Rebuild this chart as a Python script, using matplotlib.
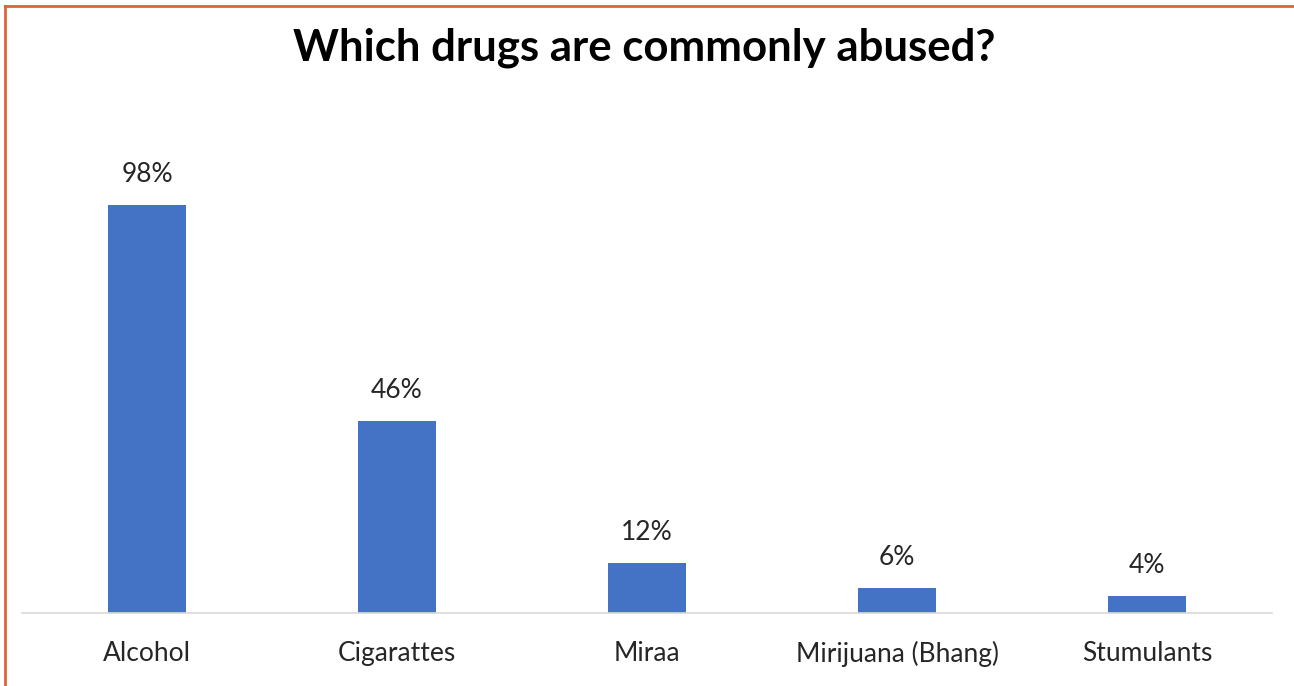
import matplotlib
matplotlib.use("Agg")
import matplotlib.pyplot as plt
from matplotlib.lines import Line2D

categories = ["Alcohol", "Cigarattes", "Miraa", "Mirijuana (Bhang)", "Stumulants"]
values = [98, 46, 12, 6, 4]
labels = ["98%", "46%", "12%", "6%", "4%"]

W, H = 1294, 686
fig = plt.figure(figsize=(W / 100, H / 100), dpi=100)
ax = fig.add_axes([22 / W, (H - 613) / H, 1250 / W, 500 / H])

x = range(len(categories))
bars = ax.bar(x, values, width=0.31, color="#4472C4", zorder=2)
ax.set_xlim(-0.5, len(categories) - 0.5)
ax.set_ylim(0, 120)

for rect, lab in zip(bars, labels):
    ax.annotate(lab, (rect.get_x() + rect.get_width() / 2, rect.get_height()),
                xytext=(0, 13), textcoords="offset points", ha="center", va="bottom",
                fontsize=19, color="#262626", family="Lato")

ax.set_xticks(list(x))
ax.set_xticklabels(categories, fontsize=19, color="#262626", family="Lato")
ax.tick_params(axis="x", length=0, pad=20)
ax.set_yticks([])
for side in ["top", "right", "left"]:
    ax.spines[side].set_visible(False)
ax.spines["bottom"].set_color("#D9D9D9")
ax.spines["bottom"].set_linewidth(1.2)

fig.text(0.5 - 3 / W, 1 - 48 / H, "Which drugs are commonly abused?", ha="center", va="center",
         fontsize=31.5, fontweight="bold", family="Lato", color="black")

# orange frame on top and left edge
border = "#D9653B"
fig.add_artist(Line2D([5 / W, 1], [1 - 6 / H, 1 - 6 / H], color=border, lw=2))
fig.add_artist(Line2D([5 / W, 5 / W], [0, 1 - 6 / H], color=border, lw=2))

fig.savefig("out.png", dpi=100)
